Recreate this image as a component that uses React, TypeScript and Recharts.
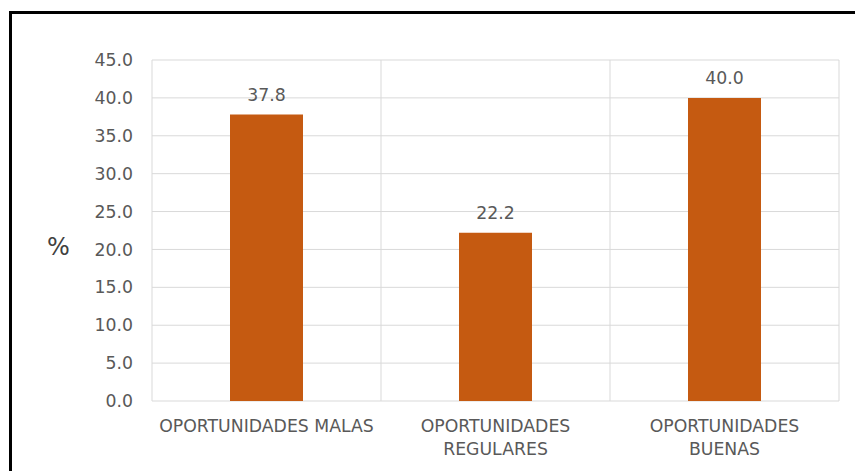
import { BarChart, Bar, XAxis, YAxis, CartesianGrid, LabelList } from 'recharts';

const categories = ['OPORTUNIDADES MALAS', 'OPORTUNIDADES\nREGULARES', 'OPORTUNIDADES\nBUENAS'];
const percentages = [37.8, 22.2, 40.0];
const yTicks = [0, 5, 10, 15, 20, 25, 30, 35, 40, 45];

const chartData = categories.map((name, i) => ({ name, value: percentages[i] }));

const FONT = '"DejaVu Sans", sans-serif';
const TEXT_GRAY = '#595959';

const CategoryTick = (props: any) => {
  const { x, y, payload } = props;
  const lines = String(payload.value).split('\n');
  return (
    <text x={x} y={y} textAnchor="middle" fill={TEXT_GRAY} fontSize={17.3} fontFamily={FONT}>
      {lines.map((line, i) => (
        <tspan key={i} x={x} dy={i === 0 ? 23 : 22.5}>
          {line}
        </tspan>
      ))}
    </text>
  );
};

export default function App() {
  return (
    <div style={{ position: 'absolute', left: 0, top: 0, width: 855, height: 471, background: '#fff', overflow: 'hidden' }}>
      {/* frame: only top and left edges show in the original */}
      <div
        style={{
          position: 'absolute',
          left: 9,
          top: 11,
          width: 900,
          height: 500,
          borderTop: '3px solid #000',
          borderLeft: '3px solid #000',
        }}
      />
      <BarChart
        width={855}
        height={471}
        data={chartData}
        margin={{ top: 60, right: 16, left: 0, bottom: 40 }}
        style={{ position: 'absolute', left: 0, top: 0 }}
      >
        <CartesianGrid
          stroke="#d9d9d9"
          verticalCoordinatesGenerator={({ offset }: any) =>
            categories.concat(['']).map((_, i) => offset.left + (offset.width * i) / categories.length)
          }
        />
        <XAxis
          dataKey="name"
          axisLine={false}
          tickLine={false}
          interval={0}
          tick={<CategoryTick />}
        />
        <YAxis
          domain={[0, 45]}
          ticks={yTicks}
          interval={0}
          width={152}
          axisLine={false}
          tickLine={false}
          tickMargin={13}
          tickFormatter={(v: number) => v.toFixed(1)}
          tick={{ fontSize: 17.3, fill: TEXT_GRAY, fontFamily: FONT }}
          label={{
            value: '%',
            position: 'insideLeft',
            offset: 47,
            dy: 16,
            fontSize: 24,
            fill: '#404040',
            fontFamily: FONT,
          }}
        />
        <Bar dataKey="value" fill="#C55A11" barSize={73} isAnimationActive={false}>
          <LabelList
            dataKey="value"
            position="top"
            offset={14}
            formatter={(v: any) => Number(v).toFixed(1)}
            style={{ fontSize: 17.3, fill: TEXT_GRAY, fontFamily: FONT }}
          />
        </Bar>
      </BarChart>
    </div>
  );
}
